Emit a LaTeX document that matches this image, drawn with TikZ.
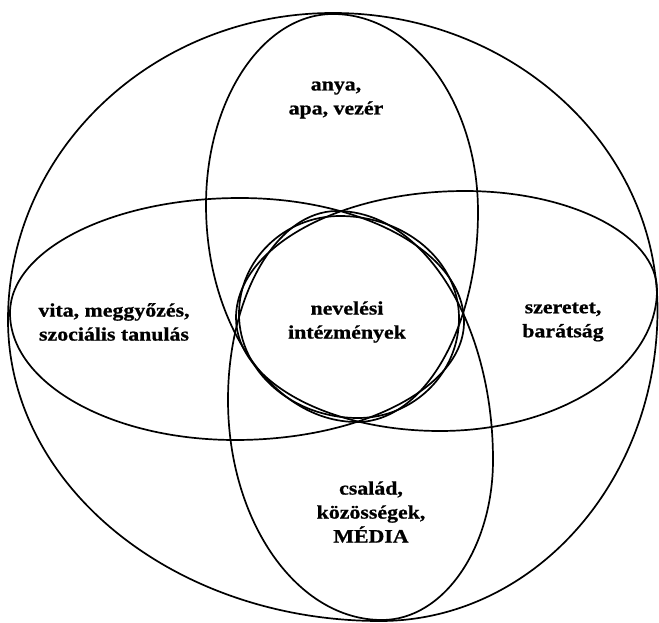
\documentclass[tikz,border=0pt]{standalone}
\usepackage{fontspec}
\setmainfont{Liberation Serif}[FakeStretch=1.15, BoldFeatures={FakeBold=0.9}]
\def\blobk{0.5523}
% closed smooth curve through its top, right, bottom and left extreme points
\newcommand\venshape[8]{%
  \draw[ring] (#1,#2)
    .. controls ({#1+\blobk*(#3-#1)},#2) and (#3,{#4-\blobk*(#4-#2)}) .. (#3,#4)
    .. controls (#3,{#4+\blobk*(#6-#4)}) and ({#5+\blobk*(#3-#5)},#6) .. (#5,#6)
    .. controls ({#5-\blobk*(#5-#7)},#6) and (#7,{#8+\blobk*(#6-#8)}) .. (#7,#8)
    .. controls (#7,{#8-\blobk*(#8-#2)}) and ({#1-\blobk*(#1-#7)},#2) .. cycle;}
\begin{document}
\begin{tikzpicture}[x=1pt,y=-1pt,
  ring/.style={draw=black, line width=1.7pt},
  lbl/.style={font=\fontsize{19}{24}\selectfont\bfseries, align=center, inner sep=0pt}]
\useasboundingbox (0,0) rectangle (659,623);
\venshape{333}{13}{657.5}{310}{380}{621}{8}{320}   % outer
\venshape{333}{14}{478}{212}{357}{422}{206}{205}   % top
\venshape{337}{211}{493}{460}{382}{620}{228}{400}  % bottom
\venshape{240}{198}{464}{322}{235}{440}{10}{313}   % left
\venshape{465}{191}{657}{290}{440}{431}{236}{318}  % right
\venshape{340}{216}{459}{318}{358}{418}{239}{314}  % centre
\node[lbl] (anya) at (336,100) {anya,\\apa, vezér};
\node[lbl] (vita) at (114,322) {vita, meggyőzés,\\szociális tanulás};
\node[lbl] (nev) at (347,322) {nevelési\\intézmények};
\node[lbl] (szer) at (563,322) {szeretet,\\barátság};
\node[lbl] (csal) at (371,512) {család,\\közösségek,\\MÉDIA};
\end{tikzpicture}
\end{document}
